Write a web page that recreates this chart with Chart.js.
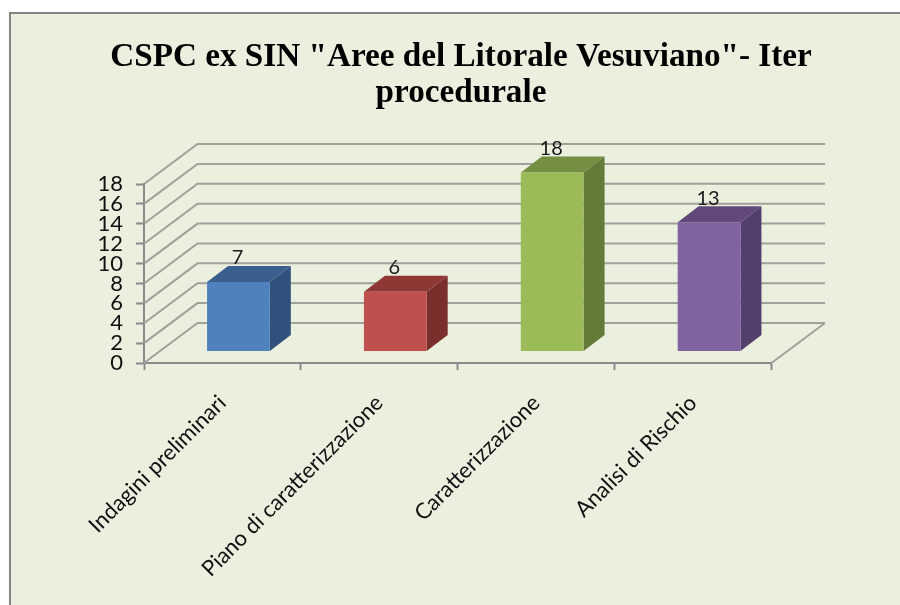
<!DOCTYPE html>
<html>
<head>
<meta charset="utf-8">
<style>
html,body{margin:0;padding:0;background:#fff;width:900px;height:605px;overflow:hidden}
#panel{position:absolute;left:9px;top:12px;width:891px;height:593px;background:#EBEFDE;border-left:2px solid #858585;border-top:2px solid #858585;box-sizing:border-box}
#c{position:absolute;left:0;top:0;display:block}
</style>
</head>
<body>
<div id="panel"></div>
<canvas id="c" width="900" height="605"></canvas>
<script src="https://cdn.jsdelivr.net/npm/chart.js@4"></script>
<script>
const titleLines = ['CSPC ex SIN "Aree del Litorale Vesuviano"- Iter', 'procedurale'];
const categories = ['Indagini preliminari', 'Piano di caratterizzazione', 'Caratterizzazione', 'Analisi di Rischio'];
const values = [7, 6, 18, 13];
const frontColors = ['#4F81BD', '#C0504D', '#9BBB59', '#8064A2'];
const topColors = ['#3A5F8F', '#8E3835', '#748E42', '#614A7B'];
const sideColors = ['#30517B', '#7A2F2D', '#647A39', '#533F6B'];
const yMin = 0, yMax = 18, yStep = 2;

const wallDX = 53.5, wallDY = 40;
const barShiftX = 16, barShiftY = 11.5;
const barDX = 21, barDY = 16;
const gridColor = '#A0A19B';
const axisColor = '#8A8A8A';

function poly(ctx, pts, color) {
  ctx.fillStyle = color;
  ctx.beginPath();
  pts.forEach((p, i) => i ? ctx.lineTo(p[0], p[1]) : ctx.moveTo(p[0], p[1]));
  ctx.closePath();
  ctx.fill();
}

const threeD = {
  id: 'threeD',
  beforeDraw(chart) {
    chart.titleBlock.left = 22;
    chart.titleBlock.right = 900;
  },
  beforeDatasetsDraw(chart) {
    const { ctx, chartArea: a, scales: { y } } = chart;
    ctx.save();
    ctx.strokeStyle = gridColor;
    ctx.lineWidth = 2;
    for (let v = yMin; v <= yMax; v += yStep) {
      const py = y.getPixelForValue(v);
      ctx.beginPath();
      ctx.moveTo(a.left, py);
      ctx.lineTo(a.left + wallDX, py - wallDY);
      ctx.lineTo(a.right + wallDX, py - wallDY);
      ctx.stroke();
    }
    const by = y.getPixelForValue(yMin);
    ctx.beginPath();
    ctx.moveTo(a.right, by);
    ctx.lineTo(a.right + wallDX, by - wallDY);
    ctx.stroke();
    ctx.restore();

    ctx.save();
    ctx.translate(barShiftX, -barShiftY);
    chart.getDatasetMeta(0).data.forEach((b, i) => {
      const l = b.x - b.width / 2, r = b.x + b.width / 2, t = b.y, bt = b.base;
      poly(ctx, [[l, t], [r, t], [r + barDX, t - barDY], [l + barDX, t - barDY]], topColors[i]);
      poly(ctx, [[r, t], [r + barDX, t - barDY], [r + barDX, bt - barDY], [r, bt]], sideColors[i]);
    });
  },
  afterDatasetsDraw(chart) {
    const { ctx } = chart;
    ctx.fillStyle = '#1a1a1a';
    ctx.font = '20px Lato, "Open Sans", sans-serif';
    ctx.textAlign = 'center';
    ctx.textBaseline = 'middle';
    chart.getDatasetMeta(0).data.forEach((b, i) => {
      ctx.fillText(String(values[i]), b.x - 1, b.y - 24);
    });
    ctx.restore();
  }
};

new Chart(document.getElementById('c'), {
  type: 'bar',
  data: {
    labels: categories,
    datasets: [{
      data: values,
      backgroundColor: frontColors,
      borderWidth: 0,
      categoryPercentage: 1,
      barPercentage: 0.4,
      clip: false
    }]
  },
  plugins: [threeD],
  options: {
    responsive: false,
    animation: false,
    events: [],
    layout: { padding: { left: 0, right: 128.5, top: 0, bottom: 0 } },
    plugins: {
      legend: { display: false },
      tooltip: { enabled: false },
      title: {
        display: true,
        text: titleLines,
        color: '#000',
        font: { family: '"Liberation Serif", serif', size: 33.2, weight: 'bold', lineHeight: 1.1 },
        padding: { top: 39, bottom: 72 }
      }
    },
    scales: {
      x: {
        afterFit(s) { s.height = 242; },
        grid: { drawOnChartArea: false, color: axisColor, tickColor: axisColor, tickWidth: 2, tickLength: 7 },
        border: { color: axisColor, width: 2 },
        ticks: {
          minRotation: 45, maxRotation: 45,
          color: '#111',
          padding: 20,
          font: { family: 'Lato, "Open Sans", sans-serif', size: 22 }
        }
      },
      y: {
        min: yMin, max: yMax,
        afterFit(s) { s.width = 144; },
        grid: { drawOnChartArea: false, color: axisColor, tickColor: axisColor, tickWidth: 2, tickLength: 8 },
        border: { color: axisColor, width: 2 },
        ticks: {
          stepSize: yStep,
          autoSkip: false,
          color: '#111',
          padding: 13,
          font: { family: 'Lato, "Open Sans", sans-serif', size: 22 }
        }
      }
    }
  }
});
</script>
</body>
</html>
